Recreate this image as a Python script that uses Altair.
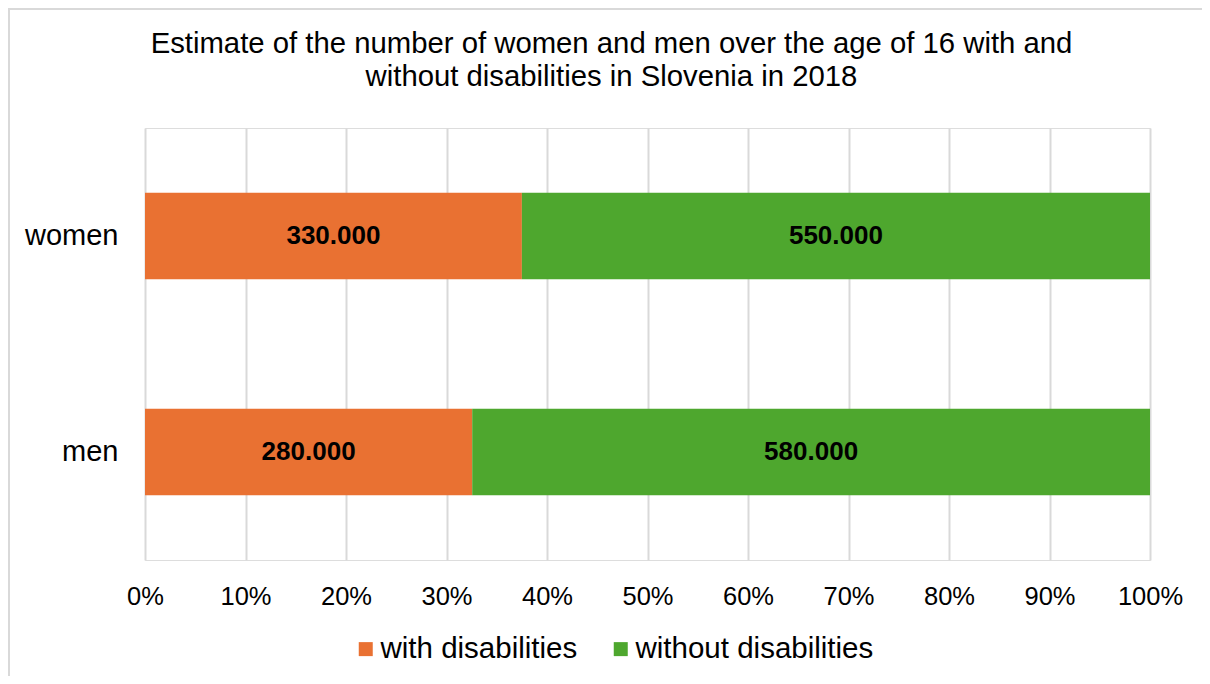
import altair as alt
import pandas as pd

categories = ["women", "men"]
groups = ["with disabilities", "without disabilities"]
with_disabilities = [330000, 280000]
without_disabilities = [550000, 580000]
colors = ["#E97132", "#4EA72E"]
tick_values = [0, 0.1, 0.2, 0.3, 0.4, 0.5, 0.6, 0.7, 0.8, 0.9, 1.0]
title_lines = [
    "Estimate of the number of women and men over the age of 16 with and",
    "without disabilities in Slovenia in 2018",
]

FONT = "Liberation Sans"

rows = []
for i, c in enumerate(categories):
    for j, (g, vals) in enumerate(zip(groups, [with_disabilities, without_disabilities])):
        v = vals[i]
        rows.append({"category": c, "group": g, "value": v, "order": j,
                     "label": f"{v:,}".replace(",", ".")})
df = pd.DataFrame(rows)

base = alt.Chart(df).transform_stack(
    stack="value", groupby=["category"], as_=["x0", "x1"], offset="normalize",
    sort=[alt.SortField("order", "ascending")],
).transform_calculate(mid="(datum.x0 + datum.x1) / 2")

yenc = alt.Y(
    "category:N", sort=categories, title=None,
    scale=alt.Scale(paddingInner=0.6, paddingOuter=0.3),
    axis=alt.Axis(domain=False, ticks=False, labelPadding=27, labelFontSize=29,
                  labelFont=FONT, labelColor="#000000", grid=False),
)

bars = base.mark_bar(cornerRadius=0).encode(
    x=alt.X("x0:Q", title=None, scale=alt.Scale(domain=[0, 1], nice=False),
            axis=alt.Axis(format=".0%", values=tick_values, domain=False, ticks=False,
                          grid=True, gridColor="#d9d9d9", gridWidth=2,
                          labelPadding=24, labelFontSize=25.5, labelFont=FONT,
                          labelColor="#000000", labelFlush=False, labelOverlap=False)),
    x2="x1:Q",
    y=yenc,
    color=alt.Color("group:N", scale=alt.Scale(domain=groups, range=colors),
                    legend=alt.Legend(title=None, orient="none", direction="horizontal",
                                      legendX=201, legendY=506, symbolType="square",
                                      symbolSize=196, symbolStrokeWidth=0, symbolOpacity=1,
                                      symbolOffset=5,
                                      labelFontSize=29.5, labelFont=FONT, labelColor="#000000",
                                      labelOffset=0, columnPadding=23, labelLimit=600,
                                      padding=0)),
)

text = base.mark_text(font=FONT, fontWeight="bold", fontSize=26, color="#000000").encode(
    x=alt.X("mid:Q"),
    y=alt.Y("category:N", sort=categories),
    text="label:N",
)

border = alt.Chart(pd.DataFrame({"a": [0]})).mark_rect(
    filled=False, stroke="#d9d9d9", strokeWidth=2
).encode(
    x=alt.value(-136), x2=alt.value(1200), y=alt.value(-119), y2=alt.value(700)
)

chart = alt.layer(border, bars, text).properties(
    width=1005, height=432,
    autosize=alt.AutoSizeParams(type="none"),
    padding={"left": 137, "top": 120, "right": 52, "bottom": 116},
    title=alt.TitleParams(text=title_lines, font=FONT, fontSize=29.3, fontWeight="normal",
                          color="#000000", anchor="middle", frame="group", dx=-36,
                          offset=-84, lineHeight=33),
).configure_view(stroke=None).configure(background="white")

chart.save("out.html", embed_options={"renderer": "svg", "actions": False})
